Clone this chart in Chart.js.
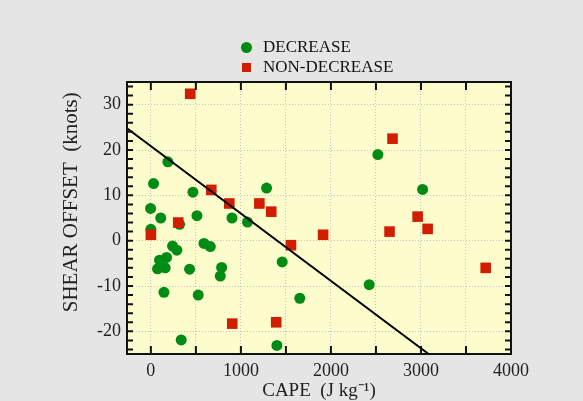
<!DOCTYPE html>
<html>
<head>
<meta charset="utf-8">
<script src="https://cdn.jsdelivr.net/npm/chart.js@4"></script>
<style>
    html, body { margin: 0; padding: 0; background: #e5e5e5; }
    #wrap { position: relative; width: 583px; height: 401px; }
    #legend { position: absolute; left: 240px; top: 37px; font-family: "Liberation Serif", serif; font-size: 17px; color: #111; }
    #legend .item { display: flex; align-items: center; height: 20px; }
    #legend .mark { width: 12px; height: 12px; margin-right: 11px; display: flex; align-items: center; justify-content: center; }
</style>
</head>
<body>
<div id="wrap">
    <canvas id="shearChart"></canvas>
    <div id="legend"></div>
</div>
<script>
// Data
const decreaseCape = [189, 30, 467, 1285, -3, 110, 512, 901, 1073, 319, 0, 241, 289, 590, 660, 96, 174, 74, 159, 430, 786, 771, 1459, 145, 526, 1654, 337, 1400, 2521, 3018, 2425];
const decreaseShear = [17.4, 12.6, 10.7, 11.6, 7.1, 5.0, 5.5, 5.0, 4.1, 3.6, 2.5, -1.2, -2.1, -0.6, -1.3, -4.3, -3.7, -6.2, -6.0, -6.3, -5.9, -7.8, -4.7, -11.4, -12.0, -12.7, -21.9, -23.1, 19.0, 11.3, -9.7];

const nonDecreaseCape = [437, 671, 871, 1205, 1337, 304, 0, 1913, 1556, 904, 1392, 2684, 2963, 3074, 2651, 3719];
const nonDecreaseShear = [32.4, 11.2, 8.2, 8.2, 6.4, 4.0, 1.3, 1.3, -1.0, -18.3, -18.0, 22.5, 5.3, 2.6, 2.0, -6.0];

// regression line end points
const fitCape = [-265, 3085];
const fitShear = [24.8, -25];

const seriesLabels = ['DECREASE', 'NON-DECREASE'];
const xGridValues = [0, 500, 1000, 1500, 2000, 2500, 3000, 3500, 4000];
const xTickValues = [0, 1000, 2000, 3000, 4000];
const yTickValues = [-20, -10, 0, 10, 20, 30];

const GREEN = '#008c14';
const RED = '#d21e00';

function toPoints(xs, ys) {
    return xs.map((x, i) => ({ x: x, y: ys[i] }));
}

// Plot background, frame and inward ticks
const framePlugin = {
    id: 'frame',
    beforeDraw(chart) {
        const { ctx, chartArea: a } = chart;
        ctx.save();
        ctx.fillStyle = '#fcfccc';
        ctx.fillRect(a.left, a.top, a.right - a.left, a.bottom - a.top);
        ctx.restore();
    },
    afterDraw(chart) {
        const { ctx, chartArea: a, scales } = chart;
        ctx.save();
        ctx.strokeStyle = '#111';
        ctx.lineWidth = 2;
        ctx.beginPath();
        for (let v = 0; v < 4000; v += 500) {
            const px = scales.x.getPixelForValue(v);
            ctx.moveTo(px, a.bottom); ctx.lineTo(px, a.bottom - 8);
            ctx.moveTo(px, a.top); ctx.lineTo(px, a.top + 8);
        }
        for (let v = -24; v <= 34; v += 2) {
            const py = scales.y.getPixelForValue(v);
            ctx.moveTo(a.left, py); ctx.lineTo(a.left + 6, py);
            ctx.moveTo(a.right, py); ctx.lineTo(a.right - 6, py);
        }
        ctx.stroke();
        ctx.strokeRect(a.left, a.top, a.right - a.left, a.bottom - a.top);
        ctx.restore();
    }
};

// Build legend
function buildLegend() {
    const legend = document.getElementById('legend');
    const marks = [
        `<span style="width:11px;height:11px;border-radius:50%;background:${GREEN};display:block"></span>`,
        `<span style="width:9px;height:9px;background:${RED};display:block"></span>`
    ];
    seriesLabels.forEach((label, i) => {
        const item = document.createElement('div');
        item.className = 'item';
        item.innerHTML = `<span class="mark">${marks[i]}</span><span>${label}</span>`;
        legend.appendChild(item);
    });
}

function createChart() {
    const ctx = document.getElementById('shearChart').getContext('2d');
    const serif = '"Liberation Serif", "Times New Roman", serif';

    new Chart(ctx, {
        type: 'scatter',
        data: {
            datasets: [
                {
                    label: 'fit',
                    type: 'line',
                    data: toPoints(fitCape, fitShear),
                    borderColor: '#000',
                    borderWidth: 2,
                    pointRadius: 0,
                    fill: false,
                    order: 0
                },
                {
                    label: seriesLabels[1],
                    data: toPoints(nonDecreaseCape, nonDecreaseShear),
                    pointStyle: 'rect',
                    pointRadius: 7.5,
                    backgroundColor: RED,
                    borderWidth: 0,
                    order: 1
                },
                {
                    label: seriesLabels[0],
                    data: toPoints(decreaseCape, decreaseShear),
                    pointStyle: 'circle',
                    pointRadius: 5.5,
                    backgroundColor: GREEN,
                    borderWidth: 0,
                    order: 2
                }
            ]
        },
        options: {
            responsive: true,
            maintainAspectRatio: false,
            animation: false,
            layout: { padding: { top: 82, right: 72, left: 0, bottom: 0 } },
            plugins: {
                legend: { display: false },
                tooltip: { enabled: false }
            },
            scales: {
                x: {
                    type: 'linear',
                    min: -265,
                    max: 4000,
                    // in v4 border.dash sets the grid line dash
                    border: { display: false, dash: [1, 2] },
                    grid: { color: '#c4c4c4', drawTicks: false },
                    afterBuildTicks: function(scale) {
                        scale.ticks = xGridValues.map(v => ({ value: v }));
                    },
                    ticks: {
                        maxRotation: 0,
                        autoSkip: false,
                        padding: 6,
                        color: '#222',
                        font: { family: serif, size: 18 },
                        callback: function(value) {
                            return xTickValues.includes(value) ? String(value) : '';
                        }
                    },
                    title: {
                        display: true,
                        text: 'CAPE  (J kg\u207B\u00B9)',
                        color: '#222',
                        font: { family: serif, size: 19, lineHeight: 1.1 },
                        padding: { top: 0, bottom: 0 }
                    },
                    afterFit: function(scale) { scale.height = 47; }
                },
                y: {
                    type: 'linear',
                    min: -25,
                    max: 35,
                    border: { display: false, dash: [1, 2] },
                    grid: { color: '#c4c4c4', drawTicks: false },
                    afterBuildTicks: function(scale) {
                        scale.ticks = yTickValues.map(v => ({ value: v }));
                    },
                    ticks: {
                        padding: 6,
                        color: '#222',
                        font: { family: serif, size: 18 },
                        callback: function(value) {
                            return String(value);
                        }
                    },
                    title: {
                        display: true,
                        // leading spaces nudge the title up a little, as in the original
                        text: '\u00A0\u00A0\u00A0\u00A0\u00A0\u00A0SHEAR OFFSET  (knots)',
                        color: '#222',
                        font: { family: serif, size: 21, lineHeight: 1.1 },
                        padding: { top: 60, bottom: 0 }
                    },
                    afterFit: function(scale) { scale.width = 127; }
                }
            }
        },
        plugins: [framePlugin]
    });
}

document.addEventListener('DOMContentLoaded', () => {
    buildLegend();
    createChart();
});
</script>
</body>
</html>
